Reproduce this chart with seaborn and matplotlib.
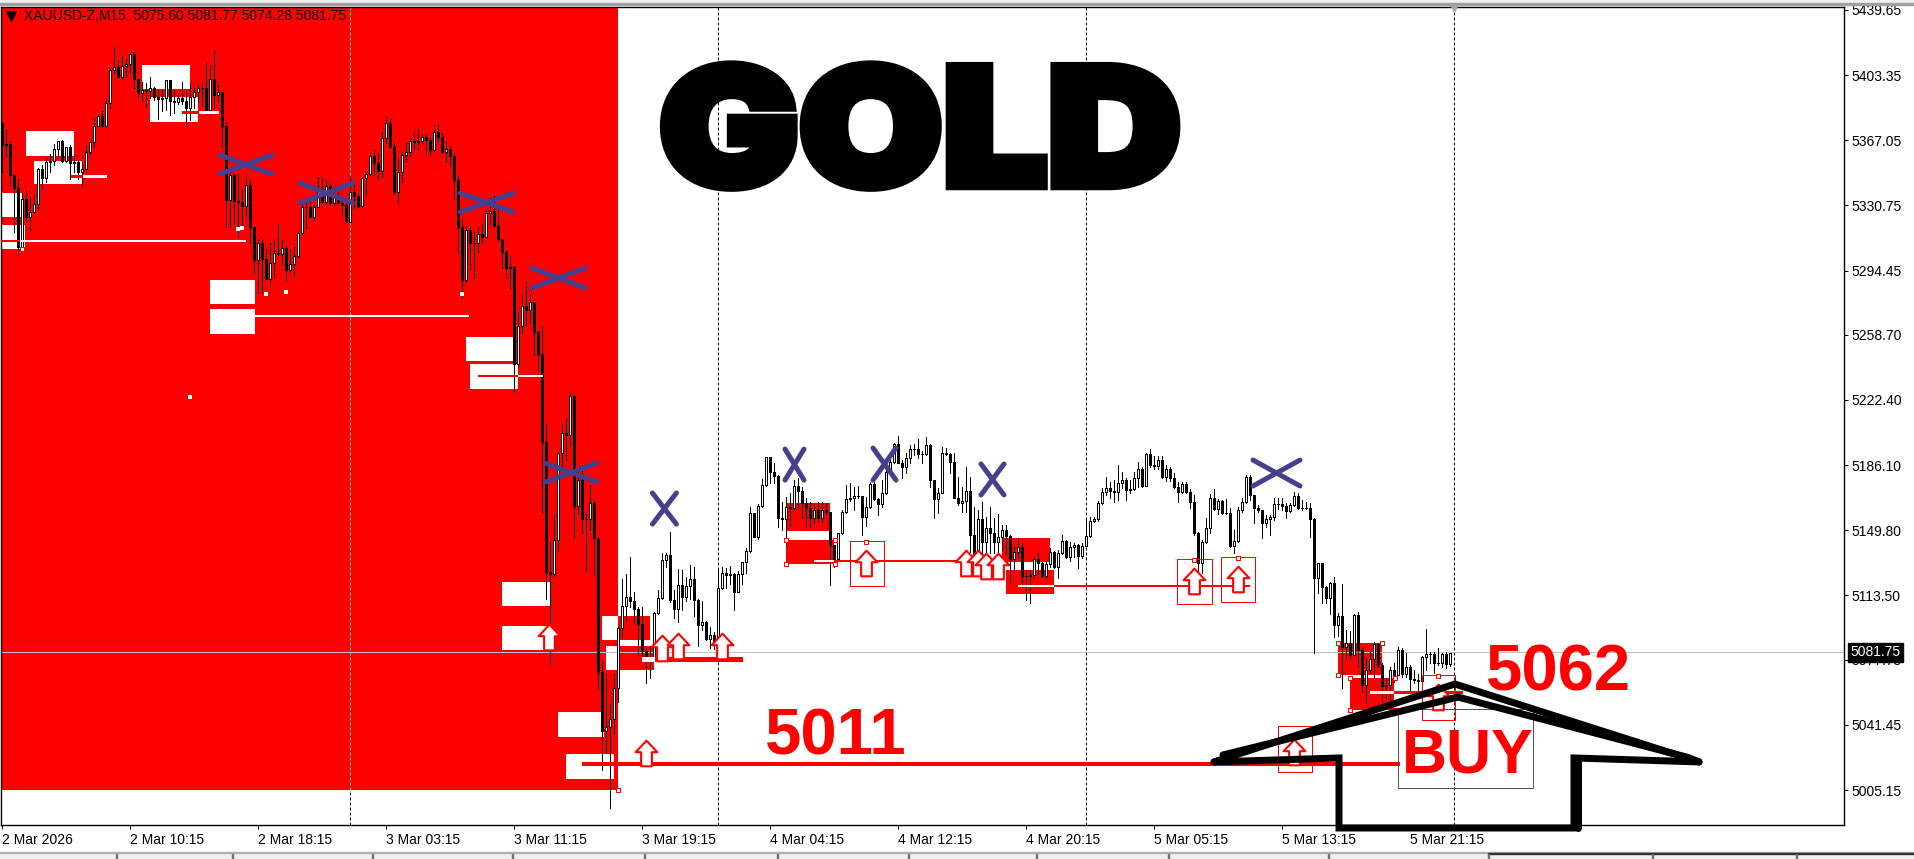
#! /bin/env python3

''' XAUUSD M15 terminal screenshot with the hand drawn trade markup '''

import matplotlib
matplotlib.use("Agg")
import matplotlib.pyplot as plt
import matplotlib.patheffects as pe
import seaborn as sns
from matplotlib.patches import Rectangle
from matplotlib.path import Path
from matplotlib.transforms import Affine2D
from pandas import DataFrame

first_open = 5378

closes = [
    5366, 5366.5, 5349, 5342, 5309, 5335.6, 5326, 5328.7, 5332.8, 5352.5,
    5347.7, 5356.5, 5357, 5363.5, 5368, 5357, 5364.6, 5355.7, 5356.7, 5351,
    5352.4, 5361.9, 5367.4, 5376.8, 5382, 5376.8, 5389.2, 5407.8, 5409.7, 5404,
    5410, 5411, 5417, 5403, 5395, 5396.7, 5396.3, 5398, 5392.6, 5391.5,
    5392, 5402, 5390.7, 5390, 5392, 5390.7, 5386.4, 5393, 5395.4, 5397.6,
    5398, 5385.5, 5403, 5394, 5395.4, 5376.6, 5335.3, 5349, 5334.7, 5334.3,
    5332, 5343.5, 5320.3, 5301.7, 5311, 5302.3, 5291.1, 5299.9, 5305.8, 5305,
    5308.2, 5296.1, 5299.3, 5304.1, 5316.6, 5331.5, 5331.5, 5325.9, 5331.5, 5340.8,
    5334.1, 5343.2, 5333.4, 5336.7, 5333.7, 5332.4, 5323.1, 5339.9, 5337.5, 5331.9,
    5347.3, 5349.8, 5359.8, 5356.1, 5351.4, 5369.7, 5378.4, 5365, 5339.9, 5351,
    5360.2, 5362.2, 5368.4, 5367.6, 5368.4, 5370.6, 5368.7, 5363.2, 5373.4, 5370.6,
    5362.2, 5363.5, 5359.8, 5346.4, 5320.3, 5290.6, 5318.5, 5311.4, 5311.4, 5316,
    5314.8, 5327.8, 5328.9, 5320.9, 5313.3, 5306.2, 5297.2, 5297.8, 5243.4, 5265,
    5276.3, 5273.8, 5278, 5261.6, 5249.3, 5199.8, 5127.2, 5126.6, 5145.5, 5193.7,
    5205.2, 5204, 5225.9, 5164.4, 5178.8, 5157.3, 5157.3, 5165.9, 5146.6, 5071.5,
    5038.8, 5040.8, 5045.1, 5062.5, 5096.3, 5108.7, 5113.5, 5111.1, 5107, 5098.4,
    5083.5, 5079.5, 5080, 5104.3, 5112.7, 5134.1, 5137, 5111.9, 5106.8, 5120,
    5113.7, 5119.7, 5123.4, 5111.9, 5097.9, 5099.6, 5089.9, 5092.1, 5087.7, 5118.4,
    5127.1, 5126, 5126.4, 5116.5, 5126.4, 5132.9, 5139.4, 5160.3, 5147.2, 5164.4,
    5176.1, 5191.5, 5183.5, 5181.1, 5157.5, 5156.9, 5163.6, 5163.4, 5175.5, 5172.9,
    5165.8, 5163, 5157.5, 5162.1, 5157.5, 5162.1, 5160.8, 5142.6, 5134.6, 5149.1,
    5161.2, 5168.1, 5168.6, 5169.9, 5169.9, 5158, 5163.6, 5176.6, 5168.3, 5165.5,
    5171.4, 5183.5, 5189.1, 5198.8, 5188.6, 5186.3, 5191, 5196, 5196, 5193.4,
    5193.4, 5198.4, 5178.9, 5168.1, 5171.8, 5194.1, 5193.4, 5189.1, 5168.6, 5166.2,
    5167, 5172.7, 5148.2, 5134.6, 5156.9, 5144.4, 5151.9, 5149.1, 5144.4, 5146.9,
    5151, 5147.6, 5134.6, 5138.5, 5141.6, 5125.3, 5125.3, 5125.6, 5134.6, 5132.3,
    5125.5, 5131.8, 5138.7, 5130.5, 5138.3, 5144.8, 5135.7, 5141.3, 5142.4, 5136.4,
    5142, 5147.6, 5156, 5156.9, 5165.8, 5172.4, 5174.2, 5172.5, 5172.2, 5177,
    5178.9, 5173.3, 5174, 5179.8, 5184.8, 5175.5, 5193.4, 5187.3, 5186.7, 5190,
    5180.7, 5184.8, 5179.8, 5174.8, 5172.4, 5176.6, 5172.4, 5166.8, 5149.1, 5132.3,
    5144, 5151.8, 5168.6, 5162.5, 5167.3, 5160.6, 5160.6, 5142, 5145, 5162.1,
    5166.4, 5180.7, 5170.5, 5163, 5162.1, 5155, 5156.9, 5158, 5165.4, 5165.3,
    5164.3, 5161.5, 5164.9, 5169.9, 5163, 5163, 5163.4, 5156.9, 5123.9, 5132.3,
    5118.9, 5113.1, 5121.1, 5097.9, 5102.9, 5085.8, 5087.6, 5081.1, 5103.4, 5083.9,
    5064.4, 5072.7, 5078.7, 5087.3, 5075.5, 5063.8, 5064.2, 5072.7, 5069.9, 5083.9,
    5070.5, 5074.6, 5067.5, 5067.1, 5066.8, 5079.8, 5081.5, 5081.7, 5076.4, 5076.8,
    5081.7, 5076.1, 5082.5,
]

highs = [
    5378, 5375, 5368, 5349, 5347, 5339, 5340.5, 5336.7, 5338, 5353,
    5354.8, 5358.5, 5361, 5366.5, 5368, 5368.8, 5364.6, 5366, 5360.4, 5357.6,
    5356.7, 5365.4, 5368.4, 5380.9, 5383, 5385, 5391.5, 5408.8, 5421, 5413.4,
    5416, 5414, 5418, 5418, 5403, 5401.3, 5400.8, 5404, 5398.5, 5396.7,
    5396.7, 5402, 5402, 5396.7, 5394.8, 5401.3, 5396.7, 5400, 5397.6, 5399.5,
    5400.4, 5411.6, 5410.7, 5418.5, 5399.5, 5395.7, 5379, 5350, 5349.6, 5350,
    5340.8, 5350, 5346.4, 5320.3, 5313.3, 5313.3, 5307.7, 5311, 5313.3, 5321.6,
    5312.9, 5309.2, 5307.3, 5309.2, 5317.5, 5332.4, 5334.3, 5334.9, 5333, 5347.9,
    5347.9, 5346.4, 5345.5, 5342.7, 5339.9, 5336.2, 5333.4, 5348.6, 5343.6, 5338.6,
    5347.7, 5351.1, 5361.3, 5363.5, 5361.3, 5373.4, 5381.4, 5380.3, 5366.9, 5358.5,
    5362.2, 5366.9, 5369.7, 5373.2, 5375.3, 5372.1, 5372.1, 5369.7, 5377.1, 5377.1,
    5372.5, 5368.4, 5365.4, 5360.9, 5348.6, 5324.4, 5320.9, 5320.3, 5317.5, 5320.3,
    5321.8, 5330, 5336.2, 5337.5, 5330.6, 5313.5, 5307, 5303.9, 5298, 5272.6,
    5282.6, 5289.6, 5282.6, 5278.2, 5261.8, 5265, 5210.3, 5144.2, 5159.3, 5193.7,
    5209.9, 5212.7, 5227.8, 5226.3, 5183.8, 5187.1, 5160.2, 5176.3, 5167.4, 5145.1,
    5077.6, 5070.6, 5053.6, 5070.6, 5097.5, 5123.4, 5126.6, 5135.7, 5116.5, 5107.9,
    5108, 5085, 5086, 5105, 5117.4, 5137.9, 5137.9, 5149.6, 5117.4, 5129,
    5128.6, 5124.9, 5131.4, 5130.5, 5112.2, 5111, 5100.3, 5096.9, 5094.2, 5128.6,
    5130.1, 5129.5, 5130.8, 5126.7, 5128.2, 5133.3, 5140.7, 5164, 5160.6, 5165.5,
    5179.2, 5191.5, 5191.9, 5188.2, 5181.7, 5166.8, 5169.6, 5171.4, 5178.9, 5179.8,
    5174.8, 5168.6, 5166.8, 5166.2, 5166.8, 5166.8, 5165.8, 5161.2, 5142.6, 5149.1,
    5162.1, 5176.1, 5177, 5175.2, 5175.5, 5170.1, 5169.6, 5177.9, 5177.9, 5168.6,
    5178.9, 5185.4, 5190, 5199.4, 5203.5, 5190, 5194.1, 5198.4, 5199, 5201.6,
    5195.3, 5203, 5199, 5179, 5174.2, 5197.1, 5196.6, 5193.8, 5193.8, 5180.7,
    5175.2, 5186, 5180.7, 5164, 5162.1, 5166.8, 5158.4, 5163.6, 5157.5, 5159.9,
    5153.7, 5153.7, 5148, 5141.6, 5146.3, 5143.5, 5128.6, 5128.6, 5136, 5137.9,
    5133.3, 5133.3, 5140.7, 5139.4, 5139.8, 5148.2, 5145.4, 5144.4, 5143.5, 5143.1,
    5143.5, 5156.5, 5158, 5158, 5167.3, 5174.2, 5180.7, 5178, 5178.9, 5187.3,
    5183.5, 5179.8, 5178.9, 5183.5, 5189.1, 5186.3, 5194.1, 5196, 5192.3, 5192.3,
    5192.3, 5187.3, 5186.3, 5182.6, 5178, 5178, 5178, 5173.7, 5170.5, 5150,
    5145.4, 5157.5, 5171, 5173.6, 5168, 5167.7, 5168, 5163, 5151, 5164,
    5168.6, 5181.6, 5181.6, 5170.5, 5164.9, 5162.1, 5159.3, 5159.3, 5168.6, 5168.6,
    5168.6, 5165.8, 5165.8, 5172.3, 5171.8, 5167.7, 5166.7, 5165.8, 5157.4, 5132.7,
    5132.7, 5119.6, 5122, 5124.9, 5104.4, 5120.6, 5095, 5094.7, 5104, 5105.3,
    5085.8, 5079.2, 5083, 5088.6, 5088, 5076.5, 5068.1, 5074.6, 5076.5, 5085.8,
    5084.8, 5082, 5075.5, 5072.7, 5070.5, 5080.5, 5095.6, 5083, 5083, 5084.8,
    5082, 5083, 5082.5,
]

lows = [
    5351, 5360, 5343, 5317.5, 5304.5, 5307, 5323, 5318, 5327.8, 5330,
    5342, 5345, 5351, 5355, 5360, 5356.7, 5356.7, 5346.8, 5351, 5347,
    5342.3, 5352, 5360.4, 5365, 5375.8, 5375.8, 5376.6, 5386.4, 5406, 5403.7,
    5403, 5404, 5406, 5397.6, 5392.6, 5390.7, 5387.4, 5392, 5391, 5380.5,
    5385, 5385.5, 5382.7, 5384, 5388.8, 5389, 5376.6, 5380, 5386.4, 5390,
    5388.3, 5382.7, 5383, 5386.4, 5390.7, 5365, 5320.3, 5320, 5322, 5314.8,
    5320.3, 5326, 5311, 5294.3, 5283.1, 5283.5, 5290.5, 5287.8, 5291.5, 5304.5,
    5298.9, 5290, 5295.2, 5292.4, 5303.6, 5315.7, 5319.8, 5325.6, 5324.1, 5331.1,
    5333.4, 5333, 5332.4, 5332.4, 5333.4, 5326.9, 5322.8, 5325, 5330.2, 5331.5,
    5331.5, 5338, 5349.2, 5349.2, 5347, 5348.3, 5367.3, 5364.6, 5338.6, 5333.7,
    5345.5, 5356.6, 5359.8, 5363.2, 5363.5, 5366.9, 5360.4, 5360.4, 5362.8, 5368.4,
    5361.7, 5356.6, 5354.2, 5335.6, 5306.4, 5280.3, 5289.6, 5296.5, 5291.5, 5306.4,
    5311, 5314.4, 5321.3, 5320.7, 5312, 5297, 5291.6, 5286, 5227.6, 5241.8,
    5261.2, 5265, 5266.6, 5248.6, 5239.9, 5161.2, 5112.5, 5075.3, 5124.4, 5139.1,
    5185.6, 5190.1, 5197.6, 5146.6, 5159.9, 5148.5, 5128.2, 5150.8, 5125.9, 5062,
    5016.8, 5026.3, 4995.7, 5037.5, 5055, 5090.4, 5100.8, 5107.8, 5098.4, 5081.3,
    5079, 5065.7, 5068, 5079, 5104, 5112.2, 5130, 5110.9, 5102, 5099.8,
    5106.3, 5111.5, 5112.2, 5103, 5086.2, 5095.1, 5089.5, 5084.9, 5084.3, 5080.2,
    5117.8, 5118.4, 5120.8, 5106.3, 5116.1, 5120.8, 5126.7, 5138.8, 5146.9, 5145.7,
    5163.6, 5175.5, 5177, 5177, 5152.8, 5151, 5142.6, 5153.7, 5162, 5162.5,
    5157.5, 5152.8, 5152.8, 5154.7, 5156.2, 5155.6, 5159.9, 5120.2, 5130.5, 5133.8,
    5148.7, 5160.6, 5167.3, 5162.1, 5168.6, 5148.2, 5153.2, 5163.1, 5167.7, 5159.3,
    5163.6, 5171.1, 5182.6, 5188.6, 5188.2, 5179.8, 5182.6, 5188.2, 5192.8, 5191,
    5188.6, 5193, 5175.2, 5157.5, 5160.6, 5171.4, 5192.8, 5182.6, 5168.6, 5164.9,
    5161.2, 5161.2, 5138.8, 5133.8, 5134.2, 5134.2, 5137.9, 5137.9, 5137.9, 5136,
    5139.8, 5137.5, 5121.2, 5128.6, 5136, 5119.3, 5111.9, 5110.4, 5124, 5126.4,
    5124.9, 5124, 5130.5, 5129.5, 5124, 5137.5, 5135.1, 5133.8, 5136, 5129.5,
    5135.1, 5146.9, 5146.9, 5155.6, 5156.2, 5165.5, 5170.5, 5168.6, 5166.8, 5167.7,
    5174.2, 5167.7, 5171.4, 5173.3, 5175.2, 5174.8, 5175.5, 5186.3, 5185.2, 5184.8,
    5179.8, 5178.5, 5178.5, 5174.2, 5166.8, 5171.4, 5171.4, 5163, 5148, 5126.7,
    5126.7, 5143.5, 5149.4, 5162, 5160, 5159.9, 5159.9, 5141.6, 5137.9, 5144.4,
    5161.2, 5165.8, 5167.7, 5154.6, 5161.2, 5146.6, 5152.4, 5148.1, 5156.5, 5162.5,
    5162, 5157.4, 5161.2, 5164.3, 5162.5, 5162, 5162.5, 5147.2, 5082, 5115.9,
    5110.3, 5110.3, 5104, 5091.3, 5091.7, 5062.5, 5078.7, 5078.7, 5080.5, 5074.6,
    5060.6, 5054.5, 5070.9, 5069, 5074.6, 5055.6, 5056.9, 5056, 5066.2, 5070.9,
    5069, 5069, 5061.6, 5065.3, 5060.6, 5066.2, 5072.7, 5076.4, 5070.9, 5075.5,
    5074.6, 5073.7, 5075,
]

last_price = 5081.75
tick_bars = list(range(0, 353, 32))
tick_labels = ["2 Mar 2026", "2 Mar 10:15", "2 Mar 18:15", "3 Mar 03:15", "3 Mar 11:15",
               "3 Mar 19:15", "4 Mar 04:15", "4 Mar 12:15", "4 Mar 20:15", "5 Mar 05:15",
               "5 Mar 13:15", "5 Mar 21:15"]
price_ticks = [5439.65, 5403.35, 5367.05, 5330.75, 5294.45, 5258.70, 5222.40, 5186.10,
               5149.80, 5113.50, 5077.75, 5041.45, 5005.15]
period_bars = [87, 179, 271, 363]

# objects on the chart: bar from, bar to, price top, price bottom
white_boxes = [(6, 18, 5373.8, 5359.8), (8, 20, 5357, 5344.2), (35, 47, 5410.6, 5397.2),
               (37, 49, 5392.7, 5378.8), (-1, 5, 5339.1, 5325.7), (-1, 5.75, 5321.3, 5307.9),
               (52, 63.25, 5290.5, 5277.1), (52, 63.25, 5274.3, 5260.4),
               (116, 127.9, 5258.7, 5245.3), (117, 129, 5243.6, 5229.7),
               (125, 137, 5121.9, 5108.5), (125, 137, 5097.3, 5083.9),
               (150, 154, 5102.9, 5089.5), (151, 154, 5086.1, 5072.7),
               (139, 150.5, 5049.3, 5035.3), (141, 153, 5025.8, 5011.8)]
red_boxes = [(154, 162, 5102.9, 5089.5), (154, 163, 5086.1, 5072.7),
             (196, 207, 5166, 5150.3), (196, 208, 5145.3, 5131.9),
             (250, 262, 5146.4, 5133), (251, 263, 5128.6, 5115.2),
             (334, 345, 5087.8, 5069.9), (337, 348, 5068.2, 5050.4)]
arrow_frames = [(212, 220.4, 5144.8, 5119.6), (293.75, 302.4, 5134.7, 5109.6),
                (304.75, 313.25, 5135.8, 5110.7), (318.9, 327.4, 5041.4, 5015.7),
                (354.9, 363.35, 5069.9, 5044.8)]
buy_frame = (349, 382.75, 5050.9, 5006.8)
background_zone = (-1, 154, 5460, 5005.7)

# bar from, bar to, price, colour, width in px
levels = [(4.5, 61, 5312.3, "white", 2), (-1, 4.5, 5312.3, "red", 2),
          (20, 26, 5348.6, "white", 3), (17.25, 20, 5348.6, "red", 3),
          (49, 54, 5384.4, "white", 3), (45, 49, 5384.4, "red", 3),
          (61, 116.75, 5270.4, "white", 2), (119, 129, 5236.9, "red", 2),
          (129, 135.25, 5236.9, "white", 2),
          (145, 349.5, 5020.2, "red", 4),
          (160, 163.25, 5078.9, "white", 5), (163.25, 185, 5078.9, "red", 5),
          (203, 208, 5133.6, "white", 2), (208, 241, 5133.6, "red", 2),
          (254, 263, 5119.6, "white", 2), (263, 312, 5119.6, "red", 2),
          (342, 348, 5060.4, "white", 3), (348, 365, 5060.4, "red", 3)]

arrow_bars = [165, 169, 180, 161, 216, 241, 243.9, 246, 249, 298, 309, 323, 359, 136.75]
arrow_prices = [5085, 5086.1, 5086.1, 5026.4, 5132.5, 5132.5, 5132.5, 5130.8, 5130.8,
                5122.4, 5123.5, 5026.9, 5057.6, 5091.2]

handle_bars = [196, 208.2, 196, 208.2, 216, 334, 345, 334, 337, 348.25, 337, 348.25,
               309, 359, 298, 5, 154]
handle_prices = [5145.3, 5145.3, 5131.9, 5131.9, 5144.2, 5087.8, 5087.8, 5069.9, 5068.2,
                 5068.2, 5050.4, 5050.4, 5135.3, 5069.4, 5134.1, 5307.9, 5005.7]

dot_bars = [59, 60, 66, 71, 115, 47]
dot_prices = [5319, 5319.5, 5282.7, 5283.8, 5282.7, 5225.2]

# bar from, bar to, price top, price bottom
crosses = [(54.5, 67.5, 5360.3, 5349.7), (74.5, 87.75, 5344.7, 5333.5),
           (114.5, 127.75, 5339.1, 5328.5), (132.5, 145.75, 5297.2, 5286.1),
           (135.75, 148.75, 5188.3, 5177.7), (162.6, 168.6, 5171.6, 5154.2),
           (195.75, 200.5, 5196.1, 5178.8), (217.75, 223.5, 5196.7, 5178.8),
           (244.75, 250.5, 5187.8, 5170.5), (312.75, 324.5, 5190, 5175.5)]

house_roof_outer = ([303, 363.25, 424.25], [5021.4, 5064.9, 5021.4])
house_roof_inner = ([305.25, 364, 421.5, 424.25], [5025.3, 5057.6, 5023.9, 5021.4])
house_base = ([303, 334.25, 334.25, 393, 393, 424.25],
              [5021.4, 5023.6, 4984.5, 4984.5, 5023.6, 5021.4])
house_post = ([394, 394], [4984.5, 5023.6])

PX = 0.72  # points per pixel at dpi 100
YLIM = (4985.66, 5441.28)


class _Widened(pe.AbstractPathEffect):
    ''' Stretches a text sideways around a pixel column, with a stroke of its own colour '''

    def __init__(self, factor, centre, stroke):
        super().__init__()
        self.factor = factor
        self.centre = centre
        self.stroke = stroke

    def draw_path(self, renderer, gc, tpath, affine, rgbFace=None):
        wide = affine + Affine2D().translate(-self.centre, 0).scale(self.factor, 1) \
            .translate(self.centre, 0)
        stroke_gc = renderer.new_gc()
        stroke_gc.copy_properties(gc)
        stroke_gc.set_linewidth(self.stroke)
        stroke_gc.set_foreground(rgbFace)
        stroke_gc.set_joinstyle("miter")
        renderer.draw_path(stroke_gc, tpath, wide, rgbFace)
        stroke_gc.restore()


def _scaled(price):
    return 5004.593 + (price - 5005.15) * 0.99731


def _box(axis, box, **kws):
    left, right, top, bottom = box
    top, bottom = _scaled(top), _scaled(bottom)
    axis.add_patch(Rectangle((left, bottom), right - left, top - bottom, **kws))


def _main():
    sns.set_theme(style="white", rc={"axes.linewidth": 1.0})
    plt.rcParams["font.family"] = ["Liberation Sans", "DejaVu Sans"]

    fig = plt.figure(figsize=(19.15, 8.59), dpi=100)
    axis = fig.add_axes([1.5 / 1915, 1 - 825 / 859, (1844 - 1.5) / 1915, (825 - 7) / 859])

    # window chrome around the chart
    fig.add_artist(Rectangle((0, 1 - 4 / 859), 1, 4 / 859, color="#f0f0f0",
                             transform=fig.transFigure))
    fig.add_artist(Rectangle((0, 1 - 4.5 / 859), 1, 1.5 / 859, color="#a0a0a0",
                             transform=fig.transFigure))
    fig.add_artist(Rectangle((0, 0), 1, 6 / 859, color="#f0f0f0", transform=fig.transFigure))
    fig.add_artist(Rectangle((0, 6 / 859), 1, 1 / 859, color="#b0b0b0",
                             transform=fig.transFigure))
    fig.add_artist(Rectangle((1488 / 1915, 5 / 859), 427 / 1915, 1 / 859, color="#303030",
                             transform=fig.transFigure))
    for tab in [116, 232, 372, 512, 644, 777, 908, 1036, 1168, 1328, 1488, 1652, 1796]:
        fig.add_artist(Rectangle((tab / 1915, 0), 1 / 1915, 5 / 859, color="#707070",
                                 transform=fig.transFigure))

    axis.set_xlim(-0.125, 460.5)
    axis.set_ylim(*YLIM)

    _box(axis, background_zone, facecolor="red", edgecolor="none", zorder=1)
    for box in white_boxes:
        _box(axis, box, facecolor="white", edgecolor="none", zorder=1.5)
    for box in red_boxes:
        _box(axis, box, facecolor="red", edgecolor="none", zorder=1.5)

    zone_bottom = _scaled(background_zone[3])
    for period in period_bars:
        axis.vlines(period, zone_bottom, YLIM[1], color="#19e6e6" if period == 87 else "black",
                    linewidth=PX, linestyles=(0, (3, 2)), zorder=2)
        axis.vlines(period, YLIM[0], zone_bottom, color="black", linewidth=PX,
                    linestyles=(0, (3, 2)), zorder=2)
    axis.axhline(last_price, color="#c0c0c0", linewidth=PX, zorder=2)

    # candles: wicks through seaborn, bodies on the same axes
    bars = list(range(len(closes)))
    close_prices = [_scaled(price) for price in closes]
    open_prices = [_scaled(first_open)] + close_prices[:-1]
    wick_prices = [_scaled(price) for price in highs + lows]
    wicks = DataFrame({"bar": bars + bars, "price": wick_prices})
    sns.lineplot(wicks, x="bar", y="price", units="bar", estimator=None, sort=False,
                 color="black", linewidth=PX, antialiased=False, zorder=3, ax=axis)
    for bar, open_price, close in zip(bars, open_prices, close_prices):
        axis.bar(bar, abs(close - open_price), bottom=min(open_price, close), width=0.6,
                 facecolor="white" if close > open_price else "black", edgecolor="black",
                 linewidth=PX, antialiased=False, zorder=3.2)

    for left, right, price, colour, width in levels:
        axis.plot([left, right], [_scaled(price)] * 2, color=colour, linewidth=width * PX,
                  solid_capstyle="butt", antialiased=False, zorder=3.5)

    for box in arrow_frames:
        _box(axis, box, facecolor="none", edgecolor="red", linewidth=PX, zorder=3.6)
    _box(axis, buy_frame, facecolor="none", edgecolor="#555555", linewidth=PX, zorder=3.6)

    arrow = Path([(0, 1), (0.85, 0.1), (0.42, 0.1), (0.42, -1), (-0.42, -1), (-0.42, 0.1),
                  (-0.85, 0.1), (0, 1)], closed=True)
    arrows = DataFrame({"bar": arrow_bars, "price": [_scaled(p) for p in arrow_prices]})
    sns.scatterplot(arrows, x="bar", y="price", marker=arrow, s=340, color="white",
                    edgecolor="red", linewidth=1.5, zorder=3.7, ax=axis)
    handles = DataFrame({"bar": handle_bars, "price": [_scaled(p) for p in handle_prices]})
    sns.scatterplot(handles, x="bar", y="price", marker="s", s=9, color="white",
                    edgecolor="red", linewidth=PX, zorder=3.8, ax=axis)
    dots = DataFrame({"bar": dot_bars, "price": [_scaled(p) for p in dot_prices]})
    sns.scatterplot(dots, x="bar", y="price", marker="s", s=5, color="white",
                    edgecolor="white", linewidth=0, zorder=3.8, ax=axis)

    for left, right, top, bottom in crosses:
        top, bottom = _scaled(top), _scaled(bottom)
        axis.plot([left, right], [top, bottom], color="#453f8f", linewidth=5 * PX, zorder=4)
        axis.plot([left, right], [bottom, top], color="#453f8f", linewidth=5 * PX, zorder=4)

    for xs, ys in [house_roof_outer, house_roof_inner, house_base, house_post]:
        axis.plot(xs, [_scaled(price) for price in ys], color="black", linewidth=7 * PX,
                  clip_on=False, solid_joinstyle="miter", zorder=5)

    axis.text(229.5, 5342.3, "GOLD", family=["Inter", "Liberation Sans"], fontsize=116,
              fontweight=900, color="black", ha="center", va="baseline", zorder=6,
              path_effects=[_Widened(1.15, 920, 8)])
    axis.text(190.75, 5025.2, "5011", fontsize=47, fontweight="bold", color="red", zorder=6)
    axis.text(371, 5060.4, "5062", fontsize=47, fontweight="bold", color="red", zorder=6)
    axis.text(349.9, 5015.1, "BUY", fontsize=45, fontweight="bold", color="red", zorder=6)

    axis.scatter([2.25], [5436], marker="v", s=45, color="black", zorder=6)
    axis.text(5.5, 5436, "XAUUSD-Z,M15  5075.60 5081.77 5074.28 5081.75", fontsize=10,
              color="black", va="center", zorder=6)
    axis.scatter([363], [5441], marker="v", s=30, color="#a8a8a8", clip_on=False, zorder=6)

    axis.set_xlabel("")
    axis.set_ylabel("")
    axis.set_xticks(tick_bars)
    axis.set_xticklabels(tick_labels, ha="left", fontsize=10, color="black")
    axis.yaxis.tick_right()
    axis.set_yticks(price_ticks)
    axis.set_yticklabels([f"{price:.2f}" for price in price_ticks], fontsize=10, color="black")
    axis.tick_params(axis="both", length=3, width=0.72, color="black", pad=2.5, bottom=True,
                     right=True, left=False)
    for spine in axis.spines.values():
        spine.set_color("black")

    axis.text(1.0035, last_price, f"{last_price:.2f}", transform=axis.get_yaxis_transform(),
              color="white", fontsize=10, va="center", ha="left", zorder=10, clip_on=False,
              bbox={"facecolor": "black", "edgecolor": "black", "pad": 1.5})

    fig.savefig("out.png", dpi=100)


if __name__ == "__main__":
    _main()
